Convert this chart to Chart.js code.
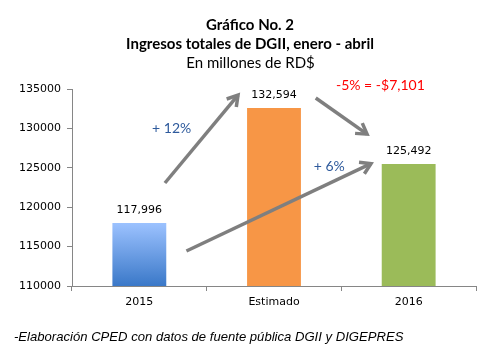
<!DOCTYPE html>
<html>
<head>
<meta charset="utf-8">
<script src="https://cdn.jsdelivr.net/npm/chart.js@4/dist/chart.umd.min.js"></script>
<style>
html,body{margin:0;padding:0;background:#fff;}
#wrap{width:492px;height:353px;position:relative;}
</style>
</head>
<body>
<div id="wrap"><canvas id="c" width="492" height="353"></canvas></div>
<script>
// ---- data ----
const categories = ["2015", "Estimado", "2016"];
const values = [117996, 132594, 125492];
const valueLabels = ["117,996", "132,594", "125,492"];
const yTicks = [110000, 115000, 120000, 125000, 130000, 135000];
const titleLines = ["Gráfico No. 2", "Ingresos totales de DGII, enero - abril", "En millones de RD$"];
const footnote = "-Elaboración CPED con datos de fuente pública DGII y DIGEPRES";
// arrows in data terms: [categoryIndex, value] start -> end
const arrowFrom = [[0.19, 123071], [0.35, 114442], [1.31, 133858]];
const arrowTo   = [[0.74, 134365], [1.73, 125609], [1.70, 129162]];
const noteTexts = ["+ 12%", "+ 6%", "-5% = -$7,101"];
const notePos = [[0.24, 130051], [1.41, 125228], [1.79, 135508]];
const noteColors = ["#2E5A9C", "#2E5A9C", "#FF0000"];
const barColors = [null, "#F79646", "#9BBB59"];

const AXIS = "#868686";

function barColor(ctx) {
  const i = ctx.dataIndex;
  if (i !== 0) return barColors[i];
  const chart = ctx.chart;
  if (!chart.chartArea) return "#5B8FD9";
  const y = chart.scales.y;
  const top = y.getPixelForValue(values[0]);
  const bottom = y.getPixelForValue(yTicks[0]);
  const g = chart.ctx.createLinearGradient(0, top, 0, bottom);
  g.addColorStop(0, "#9CC2FF");
  g.addColorStop(1, "#3A78C8");
  return g;
}

const overlay = {
  id: "overlay",
  afterDatasetsDraw(chart) {
    const ctx = chart.ctx;
    const xs = chart.scales.x, ys = chart.scales.y;
    const meta = chart.getDatasetMeta(0);
    const px = (i) => {
      const a = xs.getPixelForValue(0), b = xs.getPixelForValue(1);
      return a + (b - a) * i;
    };
    ctx.save();
    // value labels
    ctx.font = "11px 'DejaVu Sans'";
    ctx.fillStyle = "#000";
    ctx.textAlign = "center";
    ctx.textBaseline = "middle";
    meta.data.forEach((bar, i) => {
      ctx.fillText(valueLabels[i], bar.x, bar.y - 13);
    });
    // arrows
    ctx.strokeStyle = "#7F7F7F";
    ctx.lineWidth = 3.5;
    ctx.lineCap = "butt";
    ctx.lineJoin = "miter";
    for (let k = 0; k < arrowFrom.length; k++) {
      const x1 = px(arrowFrom[k][0]), y1 = ys.getPixelForValue(arrowFrom[k][1]);
      const x2 = px(arrowTo[k][0]), y2 = ys.getPixelForValue(arrowTo[k][1]);
      const ang = Math.atan2(y2 - y1, x2 - x1);
      const ex = x2 - Math.cos(ang) * 1.5, ey = y2 - Math.sin(ang) * 1.5;
      ctx.beginPath();
      ctx.moveTo(x1, y1);
      ctx.lineTo(ex, ey);
      ctx.stroke();
      const L = 12, spread = 0.55;
      ctx.beginPath();
      ctx.moveTo(ex - L * Math.cos(ang - spread), ey - L * Math.sin(ang - spread));
      ctx.lineTo(ex, ey);
      ctx.lineTo(ex - L * Math.cos(ang + spread), ey - L * Math.sin(ang + spread));
      ctx.stroke();
    }
    // notes
    ctx.font = "14px Lato";
    for (let k = 0; k < noteTexts.length; k++) {
      ctx.fillStyle = noteColors[k];
      ctx.fillText(noteTexts[k], px(notePos[k][0]), ys.getPixelForValue(notePos[k][1]));
    }
    // titles
    ctx.fillStyle = "#000";
    ctx.font = "bold 15px Lato";
    ctx.fillText(titleLines[0], 250, 25);
    ctx.fillText(titleLines[1], 250, 44);
    ctx.font = "15px Lato";
    ctx.fillText(titleLines[2], 250.5, 63);
    // footnote
    ctx.textAlign = "left";
    ctx.font = "italic 13.1px 'Liberation Sans'";
    ctx.fillText(footnote, 14, 337);
    ctx.restore();
  }
};

new Chart(document.getElementById("c"), {
  type: "bar",
  data: {
    labels: categories,
    datasets: [{
      data: values,
      backgroundColor: barColor,
      borderWidth: 0,
      categoryPercentage: 1.0,
      barPercentage: 0.4
    }]
  },
  options: {
    responsive: false,
    animation: false,
    devicePixelRatio: 1,
    layout: { padding: { top: 89, right: 16, bottom: 47, left: 0 } },
    plugins: { legend: { display: false }, title: { display: false }, tooltip: { enabled: false } },
    scales: {
      x: {
        grid: { display: true, drawOnChartArea: false, drawTicks: true, tickLength: 5, color: AXIS, offset: true },
        border: { display: true, color: AXIS, width: 1 },
        ticks: { color: "#000", font: { family: "DejaVu Sans", size: 11 }, padding: 5, maxRotation: 0 },
        afterFit(s) { s.height = 20; }
      },
      y: {
        min: 110000, max: 135000,
        afterBuildTicks(s) { s.ticks = yTicks.map(v => ({ value: v })); },
        grid: { display: true, drawOnChartArea: false, drawTicks: true, tickLength: 5, color: AXIS },
        border: { display: true, color: AXIS, width: 1 },
        ticks: { color: "#000", font: { family: "DejaVu Sans", size: 11 }, padding: 6, callback: v => String(v) },
        afterFit(s) { s.width = 72; }
      }
    }
  },
  plugins: [overlay]
});
</script>
</body>
</html>
